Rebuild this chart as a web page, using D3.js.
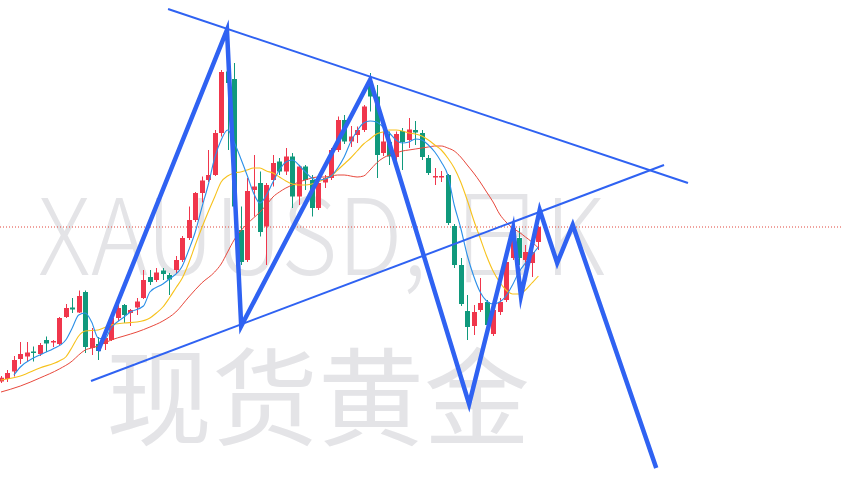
<!DOCTYPE html>
<html><head><meta charset="utf-8">
<script src="https://cdn.jsdelivr.net/npm/d3@7"></script>
<style>html,body{margin:0;padding:0;background:#fff;overflow:hidden}svg{display:block}</style>
</head><body><svg id="c" width="841" height="484"></svg>
<script>
// ---- data (daily candles, index 0..83) ----
const opens  = [2018.5,2021,2028.5,2041,2043.5,2048.5,2046,2060,2057.5,2056,2083,2092.5,2087.5,2108,2052,2056,2056,2060,2082,2095,2087,2092.5,2102,2123,2120,2129.5,2125,2130,2140,2162,2180,2207,2220,2225,2267,2328.5,2321,2170,2140,2210,2217,2173.5,2220,2238.5,2228.5,2243.5,2203.5,2233.5,2220,2192,2217.5,2222,2250,2280,2258.5,2265,2270,2318.5,2303.5,2247,2258,2243,2269,2260,2270,2267,2242,2222.5,2222.5,2225,2174,2135,2089,2074,2090,2098,2066,2088,2100,2142,2162,2140,2137,2158];
const highs  = [2024,2030,2044,2058,2058,2053.5,2057,2063.5,2060,2083,2096,2102,2109.5,2109.5,2072,2063,2065,2084,2095,2096,2091,2102,2130,2130,2132,2132,2127,2144,2164,2193.5,2208,2223.5,2250,2270,2330,2337,2337,2193.5,2222,2245,2228.5,2217,2245,2242,2252,2247,2235,2235,2225,2219,2225,2252,2283.5,2285,2274,2273.5,2295,2327,2315,2268.5,2268.5,2268.5,2272,2282,2279,2270,2245,2232,2229,2226,2176,2142,2105,2095,2122,2100,2100,2102,2142,2174,2172,2155,2160,2174];
const lows   = [2017,2018,2023.5,2036,2038.5,2038.5,2044,2048,2053,2055,2082,2087,2087,2047,2045,2040,2050,2059,2079,2077,2074,2085,2101,2115,2118,2120,2105,2127,2138,2160,2178,2197.5,2218,2224,2263.5,2250,2190,2135,2138,2183.5,2163.5,2135,2213.5,2225,2225,2192,2195,2210,2183.5,2190,2212,2220,2248,2256,2253,2257,2268,2288.5,2222,2244,2235,2240,2230,2252,2255,2240,2225,2215,2218,2175,2132,2094,2060,2065,2088,2072,2064,2085,2098,2140,2135,2134,2123,2150];
const closes = [2022.3,2027,2040,2046,2047.5,2047,2055,2056.5,2059,2082,2092,2090.5,2104,2053,2062,2049,2062,2082,2092,2085,2090,2098.5,2120,2118,2127.5,2126,2120.5,2140,2162,2180,2207,2219.5,2225,2267,2328,2317,2193.5,2138,2209,2213.5,2168,2215,2237,2228.5,2243.5,2203.5,2233.5,2220,2192,2217,2222,2250,2280,2258.5,2263.5,2270,2293.5,2303.5,2245,2258.5,2243.5,2266,2258,2270.5,2267.5,2243,2227,2224,2224,2177,2135,2096,2073,2088,2097,2075,2090,2098,2138,2172,2142,2148,2148,2173];

// moving averages (candle index, value)
const ma5Idx  = [2,3,5,7,8,10,11,12,13,14,15,16,17,19,20,22,23,25,26,28,29,30,31,32,33,34,35,36,37,38,39,40,41,42,43,44,45,46,47,48,49,50,51,52,53,54,55,56,57,58,59,60,61,62,63,64,65,66,67,68,69,70,71,72,73,74,75,76,77,78,79,80,81,82,83];
const ma5     = [2025,2033,2042,2048,2051,2060,2072,2085,2087,2078,2062,2061,2072,2083,2088,2094,2108,2116,2121,2134,2150,2168,2192,2215,2242,2260,2270,2258,2242,2225,2207,2197,2205,2218,2230,2238,2240,2235,2228,2222,2220,2221,2224,2232,2243,2258,2269,2277,2279,2278,2273,2267,2260,2257,2258,2261,2260,2255,2248,2238,2225,2195,2172,2145,2124,2108,2099,2096,2098,2104,2115,2128,2137,2145,2153];
const ma10Idx = [0,3,6,9,10,11,12,13,15,17,19,21,23,24,25,26,27,28,29,30,31,32,33,34,35,36,37,38,39,40,41,42,43,44,45,46,47,48,49,50,51,52,53,54,55,56,57,58,59,60,61,62,63,64,65,66,67,68,69,70,71,72,73,74,75,76,77,78,79,80,81,82,83];
const ma10    = [2020,2024,2032,2039,2043,2053,2064,2069,2070,2075,2077,2078,2082,2087,2093,2102,2112,2122,2137,2155,2172,2188,2203,2218,2224,2227,2228,2230,2232,2232,2229,2227,2223,2219,2216,2215,2215,2216,2218,2221,2224,2230,2236,2242,2249,2256,2261,2266,2268,2270,2270,2269,2267,2266,2264,2260,2255,2250,2242,2232,2218,2200,2180,2162,2144,2129,2118,2110,2106,2106,2110,2117,2124];
const ma20Idx = [0,3,6,9,11,12,13,14,15,17,19,21,23,25,27,29,31,33,34,35,36,37,38,39,40,41,42,43,44,45,46,47,48,49,50,51,52,53,54,55,56,57,58,59,60,61,62,63,64,65,66,67,68,69,70,71,72,73,74,75,76,77,78,79,80,81,82,83];
const ma20    = [2008,2014,2022,2031,2039,2045,2050,2052,2054,2060,2064,2068,2073,2079,2088,2103,2117,2128,2136,2148,2160,2169,2176,2182,2188,2195,2203,2208,2212,2215,2218,2220,2222,2223,2223,2224,2225,2225,2224,2223,2224,2230,2237,2242,2245,2247,2249,2250,2251,2252,2253,2254,2254,2252,2249,2243,2235,2227,2218,2208,2198,2186,2178,2172,2168,2163,2158,2152];

// hand-drawn annotations (candle index, price)
const upperTrendIdx = [25.8, 106.1], upperTrend = [2391, 2217];
const lowerTrendIdx = [13.9, 102.4], lowerTrend = [2019, 2235];
const zigIdx = [15.0, 34.9, 37.1, 57.0, 72.3, 79.1, 80.3, 83.2, 85.9, 88.3, 101.2];
const zig    = [2049, 2370, 2074, 2320, 1996, 2172, 2104, 2190, 2137, 2175, 1932];
const lastPrice = 2173;
const watermark1 = "XAUUSD, 日K";
const watermark2 = "现货黄金";

// ---- drawing ----
const W = 841, H = 484;
const svg = d3.select("#c");
const x = d3.scaleLinear().domain([0, 83]).range([1, 538.4]);
const y = d3.scaleLinear().domain([2400, 1916]).range([0, H]);

const RED = "#f0364c", GREEN = "#10997c";

// watermark
svg.append("text").attr("x", 38).attr("y", 275)
  .attr("textLength", 567).attr("lengthAdjust", "spacingAndGlyphs")
  .style("font-family", "'Noto Sans CJK SC', 'Noto Sans', sans-serif").style("font-weight", 300)
  .style("font-size", "106px").attr("fill", "#e4e4e7").text(watermark1);
svg.append("text").attr("x", 318).attr("y", 437).attr("text-anchor", "middle")
  .style("font-family", "'Noto Sans CJK SC', sans-serif").style("font-weight", 400)
  .style("font-size", "106px").attr("fill", "#e4e4e7").text(watermark2);

// last price dotted line
svg.append("line").attr("x1", 0).attr("x2", W).attr("y1", y(lastPrice)).attr("y2", y(lastPrice))
  .attr("stroke", "#e0453a").attr("stroke-width", 1).attr("stroke-dasharray", "1,2");

// candles
const idx = d3.range(opens.length);
const g = svg.append("g");
g.selectAll("line.w").data(idx).join("line").attr("class", "w")
  .attr("x1", i => Math.round(x(i)) + 0.5).attr("x2", i => Math.round(x(i)) + 0.5)
  .attr("y1", i => y(highs[i])).attr("y2", i => y(lows[i]))
  .attr("stroke", i => closes[i] >= opens[i] ? RED : GREEN).attr("stroke-width", 1);
const bw = 5;
g.selectAll("rect.b").data(idx).join("rect").attr("class", "b")
  .attr("x", i => Math.round(x(i)) + 0.5 - bw / 2)
  .attr("y", i => y(Math.max(opens[i], closes[i])))
  .attr("width", bw)
  .attr("height", i => Math.max(1, Math.abs(y(opens[i]) - y(closes[i]))))
  .attr("fill", i => closes[i] >= opens[i] ? RED : GREEN);

// moving averages
const line = d3.line().x(d => x(d[0])).y(d => y(d[1])).curve(d3.curveMonotoneX);
function ma(ids, vals, color, w) {
  svg.append("path").attr("d", line(ids.map((k, j) => [k, vals[j]])))
    .attr("fill", "none").attr("stroke", color).attr("stroke-width", w);
}
ma(ma20Idx, ma20, "#e8483c", 1);
ma(ma10Idx, ma10, "#f7c21c", 1.1);
ma(ma5Idx, ma5, "#2a8fe8", 1.1);

// annotations
const straight = d3.line().x(d => x(d[0])).y(d => y(d[1]));
const BLUE = "#2f62f2";
svg.append("path").attr("d", straight(upperTrendIdx.map((k, j) => [k, upperTrend[j]])))
  .attr("stroke", BLUE).attr("stroke-width", 2).attr("fill", "none");
svg.append("path").attr("d", straight(lowerTrendIdx.map((k, j) => [k, lowerTrend[j]])))
  .attr("stroke", BLUE).attr("stroke-width", 2).attr("fill", "none");
svg.append("path").attr("d", straight(zigIdx.map((k, j) => [k, zig[j]])))
  .attr("stroke", BLUE).attr("stroke-width", 4.5).attr("fill", "none")
  .attr("stroke-linejoin", "miter").attr("stroke-miterlimit", 10);
</script></body></html>
